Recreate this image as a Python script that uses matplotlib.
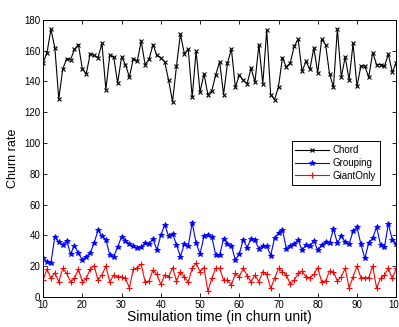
import numpy as np
import matplotlib
matplotlib.use("Agg")
import matplotlib.pyplot as plt

# simulation time steps (churn units)
time = np.arange(10, 101)

chord = [152, 158.8, 173.9, 161.9, 128.6, 147.9, 154.9, 154.2, 160.8, 164,
         148.3, 145, 157.9, 157, 155.5, 164.7, 134.7, 157, 156, 138.9,
         156, 151, 142.8, 154.9, 153.1, 166.2, 151, 154.4, 164, 157,
         155.5, 152.7, 140.7, 126.9, 150, 170.8, 158.1, 161, 129.7, 159.9,
         133, 145, 131.5, 134, 144.4, 152.7, 131.5, 152, 161, 136.3,
         144, 141, 138.5, 148.7, 139.6, 164, 138.5, 173.4, 131.5, 128.2,
         136.7, 155.5, 149.4, 152.2, 163, 167.3, 146.6, 153.1, 147.9, 161.9,
         145.7, 167.3, 164, 145, 136.3, 174.1, 142.8, 156, 141, 164.7,
         136.9, 150, 150, 142.8, 158.8, 151, 151, 150, 157.7, 146.1, 152]

grouping = [25.1, 23, 22.3, 39.1, 35.4, 33.9, 36.5, 28, 33.2, 28.4,
            24, 26.2, 28.4, 35, 43.3, 39.3, 37.2, 27.3, 26.2, 32.4,
            39.1, 36.5, 34.3, 32.8, 31.7, 32.4, 35, 34.5, 37.8, 30.6,
            40, 47, 39.3, 41.1, 33.9, 26.2, 34.3, 33.2, 48.1, 35,
            28, 39.3, 40.4, 38.9, 27.3, 27.3, 37.8, 34.3, 33.2, 24,
            27.8, 37.2, 32.1, 37.8, 36.7, 31.3, 33.2, 33.2, 26.9, 38.3,
            41.5, 43.7, 31.3, 33.2, 34.3, 37.2, 30.2, 33.9, 33.2, 36.5,
            30.2, 33.9, 35.6, 35, 44.2, 35, 39.3, 35.6, 34.5, 42.6,
            45.3, 34.3, 25.1, 35, 38.3, 45.3, 33.9, 32.4, 47.4, 37.2, 34.3]

giant_only = [11, 18.1, 12, 15.7, 9.8, 18.6, 15.3, 9.8, 12, 18.1,
              9.8, 12, 18.1, 20.3, 10.9, 14.2, 20.1, 9.8, 14.2, 13.1,
              13.1, 12, 5.9, 17.9, 19, 21.2, 9.8, 10.3, 17.5, 14.6,
              8.1, 14.2, 13.1, 19, 10.3, 16.4, 12.7, 9.8, 18.6, 21.9,
              16.4, 19, 3.7, 12, 18.6, 18.6, 10.9, 10.9, 7.7, 15.3,
              13.1, 18.6, 13.8, 9.8, 14.2, 9.8, 16.4, 14.6, 5.5, 12,
              18.6, 16.4, 14.2, 8.3, 10.9, 15.3, 16.8, 13.1, 12.5, 14.6,
              19, 9.8, 10.3, 16.8, 16.4, 10.3, 13.1, 18.6, 5.9, 13.1,
              20.1, 12.5, 12.5, 12.5, 20.1, 5.9, 12, 14.2, 18.6, 12, 18.6]

plt.rcParams['font.family'] = ['Liberation Sans', 'DejaVu Sans']

fig = plt.figure(figsize=(3.99, 3.27), dpi=100)
ax = fig.add_axes([0.108, 0.092, 0.885, 0.847])

ax.plot(time, chord, color='black', marker='x', markersize=3.2, linewidth=0.8,
        markeredgewidth=0.8, label='Chord')
ax.plot(time, grouping, color='blue', marker='*', markersize=4.2, linewidth=0.8,
        markeredgewidth=0.6, label='Grouping')
ax.plot(time, giant_only, color='red', marker='+', markersize=4.5, linewidth=0.8,
        markeredgewidth=0.8, label='GiantOnly')

ax.set_xlim(10, 100)
ax.set_ylim(0, 180)
ax.set_xticks(range(10, 101, 10))
ax.set_yticks(range(0, 181, 20))
ax.tick_params(direction='in', top=True, right=True, labelsize=7, length=3, width=0.6, pad=2)
for s in ax.spines.values():
    s.set_linewidth(0.7)

ax.set_xlabel('Simulation time (in churn unit)', fontsize=10, labelpad=0)
ax.set_ylabel('Churn rate', fontsize=9, labelpad=4)

leg = ax.legend(loc='upper left', bbox_to_anchor=(0.69, 0.58), fontsize=7,
                fancybox=False, framealpha=1, edgecolor='black', handlelength=3.4,
                borderpad=0.4, labelspacing=0.3, handletextpad=0.4)
leg.get_frame().set_linewidth(0.7)

fig.savefig('out.png', dpi=100)
